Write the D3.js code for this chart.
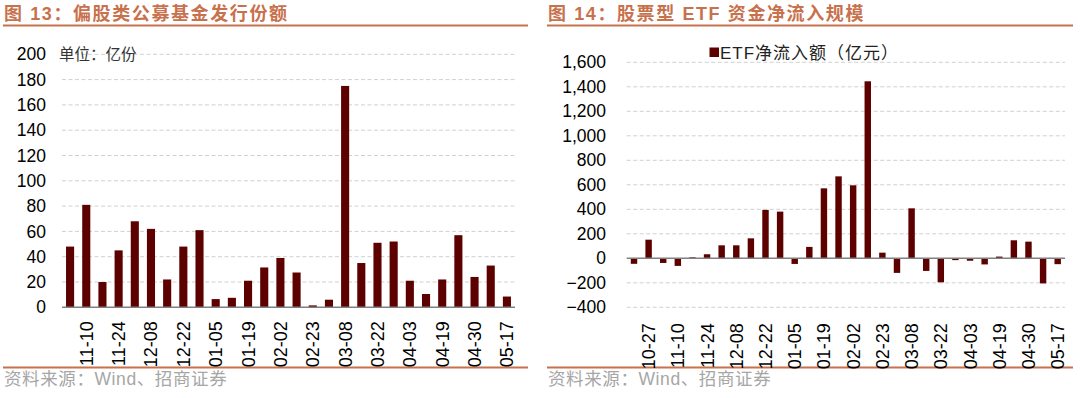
<!DOCTYPE html>
<html>
<head>
<meta charset="utf-8">
<script src="https://cdn.jsdelivr.net/npm/d3@7"></script>
<style>
  body { margin: 0; background: #fff; }
  svg { display: block; font-family: "Liberation Sans", Arial, "Noto Sans CJK SC", sans-serif; }
</style>
</head>
<body>
<svg id="chart" width="1080" height="398"></svg>
<script>
// weekly dates, the ETF chart starts two weeks earlier than the fund chart
const weeks = ['10-20', '10-27', '11-03', '11-10', '11-17', '11-24', '12-01', '12-08', '12-15', '12-22',
  '12-29', '01-05', '01-12', '01-19', '01-26', '02-02', '02-09', '02-23', '03-01', '03-08',
  '03-15', '03-22', '03-29', '04-03', '04-12', '04-19', '04-26', '04-30', '05-10', '05-17']
const fundWeeks = weeks.slice(2)

// 偏股类公募基金发行份额 (亿份)
const fundIssue = [48, 81, 20, 45, 68, 62, 22, 48, 61, 6.5, 7.5, 21, 31.5, 39, 27.5, 1.5, 6,
  175, 35, 51, 52, 21, 10.5, 22, 57, 24, 33, 8.5]
// ETF净流入额 (亿元)
const etfFlow = [-45, 152, -38, -62, 8, 33, 106, 106, 163, 395, 381, -46, 93, 571, 669, 596,
  1445, 46, -119, 408, -103, -196, -15, -20, -50, 14, 147, 136, -205, -48]

const fundTicks = [0, 20, 40, 60, 80, 100, 120, 140, 160, 180, 200]
const etfTicks = [-400, -200, 0, 200, 400, 600, 800, 1000, 1200, 1400, 1600]

const svg = d3.select('#chart')
const barColor = '#5c0000'
const accent = '#c8714d'

/**
 * Draws the title, the rule under it, the bottom rule and the source line of one panel
 */
function drawFrame (x0, x1, title) {
  svg.append('text')
    .attr('x', x0 + 1)
    .attr('y', 20)
    .attr('font-size', '18px')
    .attr('font-weight', 'bold')
    .attr('letter-spacing', '1.6px')
    .attr('fill', accent)
    .text(title)

  svg.append('line')
    .attr('x1', x0).attr('x2', x1)
    .attr('y1', 25.5).attr('y2', 25.5)
    .attr('stroke', accent)
    .attr('stroke-width', 2)

  svg.append('line')
    .attr('x1', x0).attr('x2', x1)
    .attr('y1', 367.5).attr('y2', 367.5)
    .attr('stroke', accent)
    .attr('stroke-width', 2)

  svg.append('text')
    .attr('x', x0 + 1)
    .attr('y', 384.5)
    .attr('font-size', '17.5px')
    .attr('letter-spacing', '0.6px')
    .attr('fill', '#a6a6a6')
    .text('资料来源：Wind、招商证券')
}

/**
 * Draws one bar panel: dashed grid, bars, zero line, y labels and rotated date labels
 */
function drawBars (opts) {
  const x = d3.scaleBand()
    .domain(opts.dates)
    .range([opts.left, opts.right])
    .paddingInner(opts.pad)
    .paddingOuter(opts.pad / 2)

  const y = d3.scaleLinear()
    .domain(d3.extent(opts.ticks))
    .range([opts.bottom, opts.top])

  const g = svg.append('g')

  g.selectAll('line.grid')
    .data(opts.ticks.filter(t => t !== 0))
    .join('line')
    .attr('class', 'grid')
    .attr('x1', opts.left).attr('x2', opts.right)
    .attr('y1', d => y(d)).attr('y2', d => y(d))
    .attr('stroke', '#d0d0d0')
    .attr('stroke-width', 1)
    .attr('stroke-dasharray', '4,2.5')

  g.selectAll('rect.bar')
    .data(opts.values)
    .join('rect')
    .attr('class', 'bar')
    .attr('x', (d, i) => x(opts.dates[i]))
    .attr('width', x.bandwidth())
    .attr('y', d => y(Math.max(d, 0)))
    .attr('height', d => Math.abs(y(d) - y(0)))
    .attr('fill', barColor)

  g.append('line')
    .attr('x1', opts.left).attr('x2', opts.right)
    .attr('y1', y(0)).attr('y2', y(0))
    .attr('stroke', '#808080')
    .attr('stroke-width', 1.5)

  const yAxis = g.append('g')
    .attr('transform', `translate(${opts.labelX},0)`)
    .call(d3.axisLeft(y).tickValues(opts.ticks).tickSize(0).tickPadding(0).tickFormat(d3.format(',')))
  yAxis.select('.domain').remove()
  yAxis.selectAll('text')
    .attr('font-size', '17.5px')
    .attr('font-family', '"Liberation Sans", Arial, sans-serif')
    .attr('fill', '#000')

  // every second week gets a label
  const shown = opts.dates.filter((d, i) => i % 2 === 1)
  const xAxis = g.append('g')
    .attr('transform', `translate(0,${opts.bottom})`)
    .call(d3.axisBottom(x).tickValues(shown).tickSize(0))
  xAxis.select('.domain').remove()
  xAxis.selectAll('text')
    .attr('transform', 'rotate(-90)')
    .attr('x', -opts.labelGap)
    .attr('y', 0)
    .attr('dy', '0.36em')
    .attr('text-anchor', 'end')
    .attr('font-size', '18px')
    .attr('font-family', '"Liberation Sans", Arial, sans-serif')
    .attr('fill', '#000')

  return g
}

// left panel
drawFrame(3, 528, '图 13：偏股类公募基金发行份额')
drawBars({
  dates: fundWeeks,
  values: fundIssue,
  ticks: fundTicks,
  left: 62,
  right: 515,
  top: 54.3,
  bottom: 307.3,
  pad: 0.5,
  labelX: 46,
  labelGap: 14
})
svg.append('text')
  .attr('x', 59)
  .attr('y', 59.5)
  .attr('font-size', '15.5px')
  .attr('fill', '#333')
  .text('单位：亿份')

// right panel
drawFrame(547, 1073, '图 14：股票型 ETF 资金净流入规模')
drawBars({
  dates: weeks,
  values: etfFlow,
  ticks: etfTicks,
  left: 626.7,
  right: 1065,
  top: 62.3,
  bottom: 307.3,
  pad: 0.56,
  labelX: 606,
  labelGap: 16
})
svg.append('rect')
  .attr('x', 709.5)
  .attr('y', 47.5)
  .attr('width', 9.5)
  .attr('height', 9.5)
  .attr('fill', barColor)
svg.append('text')
  .attr('x', 720)
  .attr('y', 58.5)
  .attr('font-size', '17px')
  .attr('letter-spacing', '1px')
  .attr('fill', '#222')
  .text('ETF净流入额（亿元）')
</script>
</body>
</html>
